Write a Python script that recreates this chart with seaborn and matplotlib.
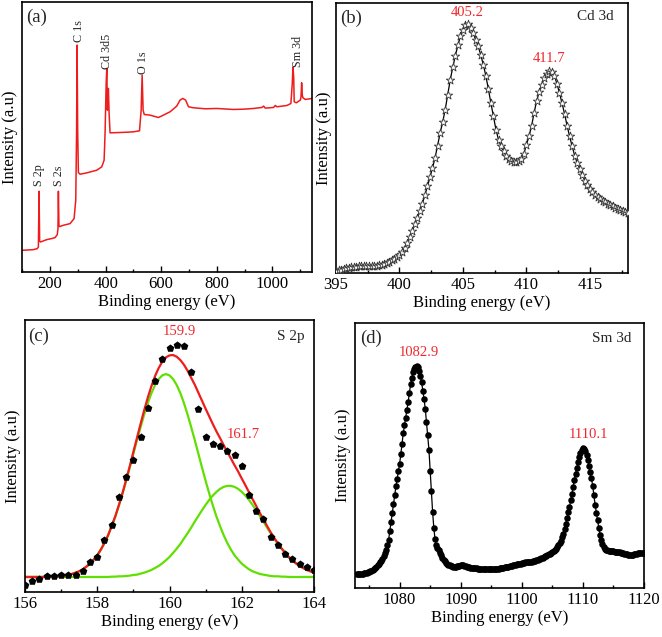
import numpy as np
import pandas as pd
import matplotlib
matplotlib.use("Agg")
import matplotlib.pyplot as plt
from matplotlib.ticker import MultipleLocator
import seaborn as sns

# ---------------- data ----------------
# (a) survey spectrum (binding energy, intensity a.u.)
survey_energy = [99, 120, 140, 154, 158, 160.4, 162.5, 166, 188, 205, 218, 226, 228.5, 230,
                 232, 234, 248, 272, 286.5, 292.5, 295.5, 297.3, 299.5, 302, 308, 332, 368,
                 386, 394.6, 398, 402, 404.2, 406.6, 408.5, 410, 412.6, 416, 452, 480, 500,
                 522, 528, 531.5, 535, 539, 560, 590, 608, 632, 656, 668, 678, 688, 698.5,
                 716.5, 760, 800, 860, 900, 932.7, 962.8, 968.8, 974.8, 1004.8, 1010.8,
                 1016.8, 1052.9, 1067, 1072, 1074.5, 1077, 1079, 1086.5, 1100.9, 1103.5,
                 1105.7, 1108, 1110.5, 1119, 1143]
survey_counts = [65, 66, 67, 70, 75, 242, 92, 90, 97, 100, 103, 112, 130, 242,
                 140, 136, 140, 145, 160, 215, 420, 680, 420, 298, 293, 297, 305,
                 315, 335, 415, 565, 610, 485, 520, 550, 475, 417, 418, 419, 420,
                 423, 485, 590, 485, 472, 470, 463, 470, 480, 497, 515, 520, 515, 495,
                 492, 489, 490, 487, 488, 490, 493, 497, 491, 493, 499,
                 495, 499, 505, 565, 613, 585, 510, 507, 515, 525,
                 567, 530, 522, 517, 520]
survey_names = ["S 2p", "S 2s", "C 1s", "Cd 3d5", "O 1s", "Sm 3d"]
survey_name_x = [161.6, 233.6, 304.5, 406.6, 534, 1091]
survey_name_y = [258, 258, 688, 608, 593, 613]

# (b) Cd 3d, 0.2 eV steps from 395.0 eV
cd_start, cd_step = 395.0, 0.2
cd_counts = [6, 8, 10, 12, 14, 15, 17, 18, 19, 20,
             20, 20, 20, 20, 21, 21, 22, 23, 24, 26,
             29, 33, 38, 43, 48, 55, 63, 75, 90, 108,
             126, 146, 165, 185, 208, 233, 260, 287, 315, 345,
             382, 420, 452, 490, 535, 580, 617, 652, 683, 710,
             730, 745, 746, 735, 720, 700, 680, 655, 625, 592,
             552, 510, 470, 430, 400, 380, 365, 352, 343, 336,
             333, 332, 335, 343, 358, 385, 410, 440, 480, 515,
             543, 565, 585, 598, 605, 603, 592, 568, 540, 510,
             478, 442, 410, 380, 352, 330, 312, 293, 277, 263,
             251, 242, 234, 228, 222, 217, 212, 208, 204, 200,
             196, 192, 189, 186, 183, 180]
cd_peaks = ["405.2", "411.7"]

# (c) S 2p, measured points 0.2 eV steps from 156.0 eV
s_start, s_step = 156.0, 0.2
s_counts = [20, 32, 39, 48, 48, 50, 50, 52, 62, 89,
            104, 157, 200, 285, 345, 397, 465, 550, 633, 697,
            730, 741, 737, 659, 548, 463, 442, 437, 421, 409,
            377, 290, 243, 218, 165, 140, 115, 100, 85, 75, 65]
# fitted components, 0.1 eV steps from 156.0 eV
fit_start, fit_step = 156.0, 0.1
fit_comp1 = [45, 45, 45, 45, 45, 45, 46, 46, 47, 47,
             48, 50, 52, 54, 58, 62, 68, 76, 85, 97,
             110, 127, 147, 170, 197, 226, 259, 295, 333, 373,
             414, 455, 494, 532, 566, 596, 620, 638, 649, 653,
             649, 638, 620, 596, 566, 532, 494, 455, 414, 373,
             333, 295, 259, 226, 197, 170, 147, 127, 110, 97,
             85, 76, 68, 62, 58, 54, 52, 50, 48, 47,
             47, 46, 46, 45, 45, 45, 45, 45, 45, 45, 45]
fit_comp2 = [45, 45, 45, 45, 45, 45, 45, 45, 45, 45,
             45, 45, 45, 45, 45, 45, 45, 45, 45, 45,
             45, 45, 45, 45, 46, 46, 47, 47, 48, 49,
             51, 52, 55, 58, 62, 66, 72, 78, 86, 95,
             105, 117, 130, 144, 160, 176, 193, 211, 228, 245,
             261, 276, 289, 300, 309, 315, 318, 318, 315, 309,
             300, 289, 276, 261, 245, 228, 211, 193, 176, 160,
             144, 130, 117, 105, 95, 86, 78, 72, 66, 62, 58]
fit_total = [45, 45, 45, 45, 45, 45, 46, 46, 47, 47,
             48, 50, 52, 54, 58, 62, 68, 76, 85, 97,
             110, 127, 147, 170, 198, 227, 261, 297, 336, 377,
             420, 462, 504, 545, 583, 617, 647, 671, 690, 703,
             709, 710, 705, 695, 681, 663, 642, 621, 597, 573,
             549, 526, 503, 481, 461, 440, 420, 400, 380, 361,
             340, 320, 299, 278, 258, 237, 218, 198, 179, 162,
             146, 131, 118, 105, 95, 86, 78, 72, 66, 62, 58]
s_peaks = ["159.9", "161.7"]

# (d) Sm 3d, 0.2 eV steps from 1073.0 eV
sm_start, sm_step = 1073.0, 0.2
sm_counts = [43, 43, 43, 43, 43, 43, 44, 45, 46, 47,
             48, 50, 52, 55, 58, 60, 64, 68, 72, 77,
             82, 88, 95, 104, 114, 128, 144, 170, 197, 224,
             251, 277, 304, 327, 350, 372, 400, 432, 464, 487,
             510, 533, 557, 584, 610, 628, 645, 655, 662, 664,
             660, 650, 634, 616, 591, 565, 537, 497, 459, 414,
             350, 290, 228, 180, 146, 130, 121, 114, 106, 98,
             90, 84, 80, 76, 72, 70, 68, 66, 65, 64,
             64, 64, 65, 66, 67, 68, 68, 68, 67, 66,
             64, 63, 62, 61, 60, 60, 59, 59, 59, 58,
             58, 58, 57, 58, 58, 57, 58, 58, 57, 58,
             58, 58, 57, 58, 58, 58, 58, 59, 60, 60,
             61, 62, 62, 63, 64, 65, 66, 67, 68, 69,
             70, 71, 72, 73, 73, 74, 75, 76, 77, 77,
             78, 78, 78, 79, 80, 81, 82, 84, 85, 86,
             88, 89, 91, 93, 95, 97, 99, 101, 103, 105,
             107, 110, 114, 118, 123, 128, 134, 142, 152, 163,
             176, 192, 209, 226, 242, 262, 282, 302, 322, 342,
             360, 376, 391, 403, 412, 418, 417, 410, 399, 384,
             366, 348, 328, 306, 278, 249, 225, 202, 180, 160,
             143, 131, 123, 118, 115, 113, 112, 111, 111, 110,
             110, 109, 109, 108, 108, 107, 106, 105, 104, 103,
             102, 101, 100, 100, 100, 100, 100, 101, 102, 103,
             104, 105, 105, 106, 106, 106]
sm_peaks = ["1082.9", "1110.1"]

# ---------------- frames ----------------
survey_df = pd.DataFrame({"energy": survey_energy, "counts": survey_counts})
cd_df = pd.DataFrame({"counts": cd_counts})
cd_df["energy"] = cd_start + cd_step * np.arange(len(cd_df))
s_df = pd.DataFrame({"counts": s_counts})
s_df["energy"] = s_start + s_step * np.arange(len(s_df))
fit_df = pd.DataFrame({"c1": fit_comp1, "c2": fit_comp2, "tot": fit_total})
fit_df["energy"] = fit_start + fit_step * np.arange(len(fit_df))
sm_df = pd.DataFrame({"counts": sm_counts})
sm_df["energy"] = sm_start + sm_step * np.arange(len(sm_df))

# ---------------- style ----------------
sns.set_theme(style="ticks")
plt.rcParams["font.family"] = ["Liberation Serif", "DejaVu Serif"]
plt.rcParams["mathtext.fontset"] = "stix"

RED = "#ee1c1c"
LABRED = "#f0282d"
GREEN = "#5fe000"

W, H = 662, 637
fig = plt.figure(figsize=(W / 100, H / 100), dpi=100)


def make_ax(l, t, r, b):
    return fig.add_axes([l / W, 1 - b / H, (r - l) / W, (b - t) / H])


ax_a = make_ax(22, 2, 312, 272)
ax_b = make_ax(336, 3, 628, 273)
ax_c = make_ax(25, 320, 314, 592)
ax_d = make_ax(355, 323, 644, 588)


def style(ax, major, minor):
    for s in ax.spines.values():
        s.set_linewidth(1.2)
        s.set_color("black")
    ax.xaxis.set_major_locator(MultipleLocator(major))
    ax.xaxis.set_minor_locator(MultipleLocator(minor))
    ax.tick_params(axis="x", which="both", direction="in", top=False, bottom=True,
                   colors="black", labelsize=12, pad=3, width=1.0)
    ax.tick_params(axis="x", which="major", length=4.5)
    ax.tick_params(axis="x", which="minor", length=2.5)
    ax.tick_params(axis="y", which="both", left=False, right=False, labelleft=False)
    ax.set_yticks([])
    ax.set_xlabel("Binding energy (eV)", fontsize=12, labelpad=1, color="black")
    ax.set_ylabel("Intensity (a.u)", fontsize=12, labelpad=3, color="black")


# (a)
sns.lineplot(data=survey_df, x="energy", y="counts", ax=ax_a, color=RED, lw=1.1,
             sort=False, estimator=None)
ax_a.set_xlim(99, 1143)
ax_a.set_ylim(0, 809)
style(ax_a, 200, 100)
ax_a.text(0.015, 0.975, "(a)", transform=ax_a.transAxes, ha="left", va="top", fontsize=13.5)
for name, x, y in zip(survey_names, survey_name_x, survey_name_y):
    ax_a.text(x, y, name, rotation=90, ha="center", va="bottom", fontsize=8.7)

# (b)
sns.lineplot(data=cd_df, x="energy", y="counts", ax=ax_b, color="black", lw=0.9,
             sort=False, estimator=None)
sns.scatterplot(data=cd_df, x="energy", y="counts", ax=ax_b, marker="*", s=40,
                facecolor="white", edgecolor="#333333", linewidth=0.6, zorder=3)
ax_b.set_xlim(395, 418)
ax_b.set_ylim(0, 810)
style(ax_b, 5, 2.5)
ax_b.text(0.014, 0.975, "(b)", transform=ax_b.transAxes, ha="left", va="top", fontsize=13.5)
ax_b.text(0.95, 0.975, "Cd 3d", transform=ax_b.transAxes, ha="right", va="top", fontsize=11)
ax_b.text(405.3, 762, cd_peaks[0], color=LABRED, ha="center", va="bottom", fontsize=10.5)
ax_b.text(411.8, 625, cd_peaks[1], color=LABRED, ha="center", va="bottom", fontsize=10.5)

# (c)
sns.lineplot(data=fit_df, x="energy", y="c1", ax=ax_c, color=GREEN, lw=1.6,
             sort=False, estimator=None)
sns.lineplot(data=fit_df, x="energy", y="c2", ax=ax_c, color=GREEN, lw=1.6,
             sort=False, estimator=None)
sns.lineplot(data=fit_df, x="energy", y="tot", ax=ax_c, color=RED, lw=1.6,
             sort=False, estimator=None)
sns.scatterplot(data=s_df, x="energy", y="counts", ax=ax_c, marker="p", s=34,
                color="black", edgecolor="black", linewidth=0, zorder=3)
ax_c.set_xlim(156, 164)
ax_c.set_ylim(0, 815)
style(ax_c, 2, 1)
ax_c.text(0.01, 0.97, "(c)", transform=ax_c.transAxes, ha="left", va="top", fontsize=13.5)
ax_c.text(0.969, 0.965, "S 2p", transform=ax_c.transAxes, ha="right", va="top", fontsize=11)
ax_c.text(160.26, 762, s_peaks[0], color=LABRED, ha="center", va="bottom", fontsize=10.5)
ax_c.text(162.03, 452, s_peaks[1], color=LABRED, ha="center", va="bottom", fontsize=10.5)

# (d)
sns.lineplot(data=sm_df, x="energy", y="counts", ax=ax_d, color="black", lw=0.9,
             sort=False, estimator=None)
sns.scatterplot(data=sm_df, x="energy", y="counts", ax=ax_d, marker="o", s=22,
                color="black", edgecolor="black", linewidth=0, zorder=3)
ax_d.set_xlim(1072.7, 1120)
ax_d.set_ylim(0, 793)
style(ax_d, 10, 5)
ax_d.text(0.017, 0.974, "(d)", transform=ax_d.transAxes, ha="left", va="top", fontsize=13.5)
ax_d.text(0.958, 0.966, "Sm 3d", transform=ax_d.transAxes, ha="right", va="top", fontsize=11)
ax_d.text(1083.2, 685, sm_peaks[0], color=LABRED, ha="center", va="bottom", fontsize=10.5)
ax_d.text(1110.9, 440, sm_peaks[1], color=LABRED, ha="center", va="bottom", fontsize=10.5)

fig.savefig("out.png", dpi=100, facecolor="white")
